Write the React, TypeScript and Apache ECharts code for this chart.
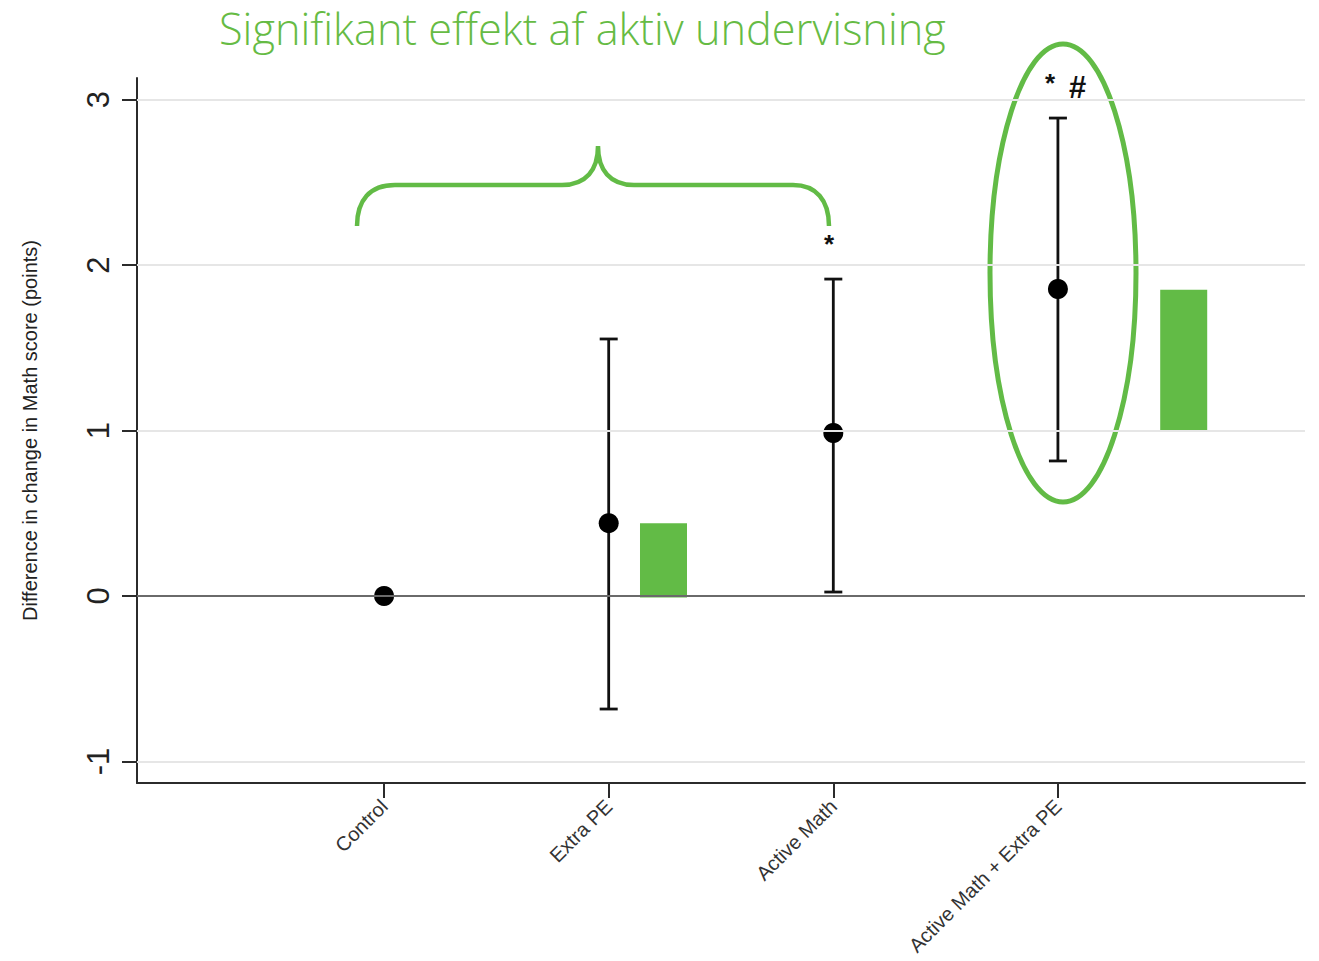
import React, { useEffect, useRef } from "react";
import * as echarts from "echarts";

// ---------- data ----------
const categories = ["Control", "Extra PE", "Active Math", "Active Math + Extra PE"];
const estimates = [0, 0.44, 0.985, 1.855];
const ciLow = [null, -0.683, 0.024, 0.816];
const ciHigh = [null, 1.553, 1.915, 2.888];
const yTicks = [-1, 0, 1, 2, 3];
const gridValues = [-1, 1, 2, 3];
const effectCats = ["Extra PE", "Active Math + Extra PE"];
const effectLow = [0, 1.0];
const effectHigh = [0.44, 1.85];

// ---------- layout / style ----------
const GREEN = "#62bb46";
const EFFECT_OFFSET = [0.244, 0.56];
const FONT = "'Liberation Sans', Arial, sans-serif";

echarts.graphic.registerShape(
  "brace",
  echarts.graphic.extendPath(
    "M357,226 C357,200 370,185 395,185 L562,185 C586,185 598,170 598,146 C598,170 610,185 634,185 L793,185 C816,185 829,200 829,226",
    {}
  )
);

export default function App() {
  const ref = useRef<HTMLDivElement>(null);

  useEffect(() => {
    if (!ref.current) return;
    const chart = echarts.init(ref.current, null, { renderer: "svg" });

    const xVals = categories.map((_, i) => i + 1);
    const pointData = xVals.map((x, i) => [x, estimates[i]]);
    const ciData = xVals
      .map((x, i) => [x, ciLow[i], ciHigh[i]])
      .filter((d) => d[1] !== null && d[2] !== null);
    const effectData = effectCats.map((c, i) => [
      categories.indexOf(c) + 1 + EFFECT_OFFSET[i],
      effectLow[i],
      effectHigh[i],
    ]);

    const option: any = {
      animation: false,
      backgroundColor: "#ffffff",
      grid: { left: 137, right: 14, top: 78, bottom: 178 },
      xAxis: {
        type: "value",
        min: -0.1,
        max: 5.1,
        axisLine: { show: true, onZero: false, lineStyle: { color: "#2b2b2b", width: 2 } },
        axisTick: { show: true, customValues: xVals, length: 15, lineStyle: { color: "#2b2b2b", width: 2 } },
        axisLabel: {
          customValues: xVals,
          formatter: (v: number) => categories[Math.round(v) - 1] ?? "",
          rotate: 45,
          fontSize: 20,
          margin: 20,
          color: "#333",
          fontFamily: FONT,
        },
        splitLine: { show: false },
      },
      yAxis: {
        type: "value",
        min: -1.13,
        max: 3.13,
        name: "Difference in change in Math score (points)",
        nameLocation: "middle",
        nameGap: 97,
        nameRotate: 90,
        nameTextStyle: { fontSize: 20, color: "#222", fontFamily: FONT },
        axisLine: { show: true, onZero: false, lineStyle: { color: "#2b2b2b", width: 2 } },
        axisTick: { show: true, customValues: yTicks, length: 15, lineStyle: { color: "#2b2b2b", width: 2 } },
        axisLabel: {
          customValues: yTicks,
          rotate: 90,
          fontSize: 31,
          margin: 23,
          color: "#222",
          fontFamily: FONT,
        },
        splitLine: { show: false },
      },
      series: [
        {
          type: "line",
          data: [],
          silent: true,
          z: 1,
          markLine: {
            silent: true,
            symbol: "none",
            label: { show: false },
            data: [
              ...gridValues.map((v) => ({
                yAxis: v,
                lineStyle: { color: "#e6e6e6", width: 2, type: "solid" },
              })),
              { yAxis: 0, lineStyle: { color: "#6a6a6a", width: 2, type: "solid" } },
            ],
          },
        },
        {
          type: "custom",
          z: 2,
          silent: true,
          data: effectData,
          renderItem: (params: any, api: any) => {
            const x = api.value(0);
            const p0 = api.coord([x, api.value(1)]);
            const p1 = api.coord([x, api.value(2)]);
            const w = 47;
            return {
              type: "rect",
              shape: { x: p0[0] - w / 2, y: p1[1], width: w, height: p0[1] - p1[1] + 1.5 },
              style: { fill: GREEN },
            };
          },
        },
        {
          type: "custom",
          z: 3,
          silent: true,
          data: ciData,
          renderItem: (params: any, api: any) => {
            const x = api.value(0);
            const pLo = api.coord([x, api.value(1)]);
            const pHi = api.coord([x, api.value(2)]);
            const cap = 9;
            const st = { stroke: "#111", lineWidth: 2.8 };
            return {
              type: "group",
              children: [
                { type: "line", shape: { x1: pLo[0], y1: pLo[1], x2: pHi[0], y2: pHi[1] }, style: st },
                { type: "line", shape: { x1: pLo[0] - cap, y1: pLo[1], x2: pLo[0] + cap, y2: pLo[1] }, style: st },
                { type: "line", shape: { x1: pHi[0] - cap, y1: pHi[1], x2: pHi[0] + cap, y2: pHi[1] }, style: st },
              ],
            };
          },
        },
        {
          type: "scatter",
          z: 4,
          silent: true,
          symbol: "circle",
          symbolSize: 20,
          itemStyle: { color: "#000", opacity: 1 },
          data: pointData,
        },
      ],
      graphic: [
        {
          type: "text",
          left: 219,
          top: 7,
          style: {
            text: "Signifikant effekt af aktiv undervisning",
            fontSize: 43.3,
            fontWeight: 300,
            fontFamily: "'Open Sans', 'Noto Sans', sans-serif",
            fill: "#66bb44",
          },
        },
        {
          type: "brace",
          x: 0,
          y: 0,
          style: { fill: "none", stroke: GREEN, lineWidth: 4.5 },
        },
        {
          type: "ellipse",
          shape: { cx: 1063, cy: 273, rx: 73, ry: 229 },
          style: { fill: "none", stroke: GREEN, lineWidth: 5 },
        },
        {
          type: "text",
          x: 829,
          y: 244,
          style: { text: "*", fontSize: 26, fontWeight: "bold", fontFamily: FONT, fill: "#111", align: "center", verticalAlign: "middle" },
        },
        {
          type: "text",
          x: 1050,
          y: 83,
          style: { text: "*", fontSize: 26, fontWeight: "bold", fontFamily: FONT, fill: "#111", align: "center", verticalAlign: "middle" },
        },
        {
          type: "text",
          x: 1077,
          y: 87,
          style: { text: "#", fontSize: 31, fontStyle: "italic", fontWeight: "bold", fontFamily: FONT, fill: "#111", align: "center", verticalAlign: "middle" },
        },
      ],
    };

    chart.setOption(option);
    return () => chart.dispose();
  }, []);

  return (
    <div
      ref={ref}
      style={{ position: "absolute", left: 0, top: 0, width: 1319, height: 961 }}
    />
  );
}
